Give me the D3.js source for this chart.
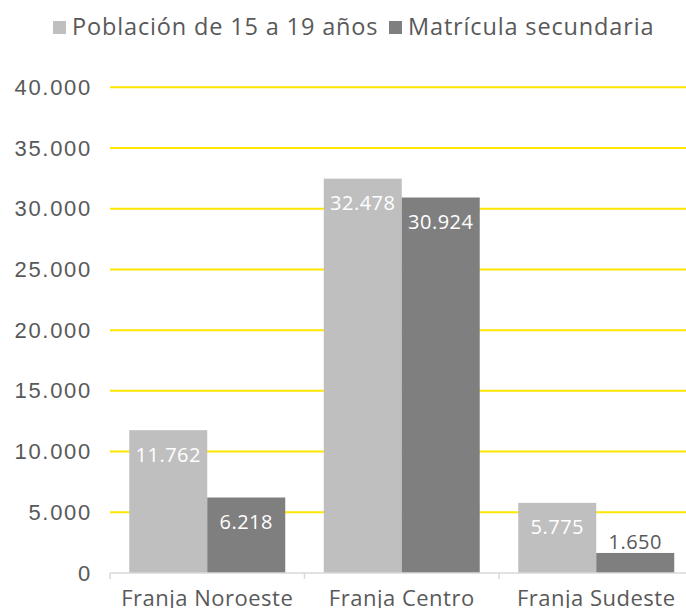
<!DOCTYPE html>
<html>
<head>
<meta charset="utf-8">
<script src="https://cdn.jsdelivr.net/npm/d3@7"></script>
<style>
  html, body { margin: 0; padding: 0; background: #fff; }
  svg { display: block; font-family: "Open Sans", "Noto Sans", sans-serif; }
</style>
</head>
<body>
<svg id="chart" width="686" height="608"></svg>
<script>
// Regions and the two series drawn per region
const categories = ["Franja Noroeste", "Franja Centro", "Franja Sudeste"];
const seriesNames = ["Población de 15 a 19 años", "Matrícula secundaria"];
const poblacion = [11762, 32478, 5775];
const matricula = [6218, 30924, 1650];
const yTicks = [0, 5000, 10000, 15000, 20000, 25000, 30000, 35000, 40000];

const colors = ["#BFBFBF", "#7F7F7F"];
const textColor = "#595959";

const svg = d3.select("#chart");
const plot = { left: 110, right: 693.5, top: 87.3, bottom: 573 };

const fmt = d3.formatLocale({ decimal: ",", thousands: ".", grouping: [3], currency: ["", ""] }).format(",d");

const y = d3.scaleLinear().domain([0, 40000]).range([plot.bottom, plot.top]);
const x0 = d3.scaleBand().domain(categories).range([plot.left, plot.right]).padding(0);
const x1 = d3.scaleBand().domain(seriesNames).range([0, x0.bandwidth()]).paddingInner(0).paddingOuter(0.247);

// Horizontal gridlines (skip zero, the axis line sits there)
svg.append("g")
  .selectAll("line")
  .data(yTicks.filter(d => d > 0))
  .join("line")
  .attr("x1", plot.left).attr("x2", plot.right)
  .attr("y1", d => y(d)).attr("y2", d => y(d))
  .attr("stroke", "#FFE600").attr("stroke-width", 2);

// Y axis labels
const yAxis = svg.append("g")
  .attr("transform", `translate(${plot.left},0)`)
  .call(d3.axisLeft(y).tickValues(yTicks).tickFormat(fmt).tickSize(0).tickPadding(18));
yAxis.select(".domain").remove();
yAxis.selectAll("text")
  .attr("fill", textColor)
  .style("font-size", "22px")
  .style("letter-spacing", "1.7px")
  .attr("font-family", null);

// Bars
const rows = categories.map((c, i) => ({ cat: c, values: [poblacion[i], matricula[i]] }));
const groups = svg.append("g")
  .selectAll("g")
  .data(rows)
  .join("g")
  .attr("transform", d => `translate(${x0(d.cat)},0)`);

groups.selectAll("rect")
  .data(d => d.values.map((v, j) => ({ s: seriesNames[j], v, j })))
  .join("rect")
  .attr("x", d => x1(d.s))
  .attr("width", x1.bandwidth())
  .attr("y", d => y(d.v))
  .attr("height", d => y(0) - y(d.v))
  .attr("fill", d => colors[d.j]);

// Value labels: inside near the top, or above the bar when it is too short
groups.selectAll("text.val")
  .data(d => d.values.map((v, j) => ({ s: seriesNames[j], v, j })))
  .join("text")
  .attr("class", "val")
  .attr("x", d => x1(d.s) + x1.bandwidth() / 2)
  .attr("y", d => (y(0) - y(d.v) > 40 ? y(d.v) + 24.5 : y(d.v) - 10.5))
  .attr("dy", "0.35em")
  .attr("text-anchor", "middle")
  .attr("fill", d => (y(0) - y(d.v) > 40 ? "#FFFFFF" : textColor))
  .style("font-size", "20px")
  .style("letter-spacing", "0.5px")
  .text(d => fmt(d.v));

// X axis line and category ticks
const xAxis = svg.append("g")
  .attr("transform", `translate(0,${plot.bottom})`);
xAxis.append("line")
  .attr("x1", plot.left).attr("x2", plot.right)
  .attr("stroke", "#D9D9D9").attr("stroke-width", 1.5);
xAxis.selectAll("line.tick")
  .data(categories.map(c => x0(c)).concat([plot.right]))
  .join("line")
  .attr("class", "tick")
  .attr("x1", d => d).attr("x2", d => d)
  .attr("y1", 0).attr("y2", 6)
  .attr("stroke", "#D9D9D9").attr("stroke-width", 1.5);
xAxis.selectAll("text")
  .data(categories)
  .join("text")
  .attr("x", d => x0(d) + x0.bandwidth() / 2)
  .attr("y", 33)
  .attr("text-anchor", "middle")
  .attr("fill", textColor)
  .style("font-size", "22px")
  .style("letter-spacing", "0.5px")
  .text(d => d);

// Legend across the top
const legend = svg.append("g").attr("transform", "translate(0,35)");
const legendItems = [
  { name: seriesNames[0], color: colors[0], x: 53 },
  { name: seriesNames[1], color: colors[1], x: 389 }
];
const li = legend.selectAll("g").data(legendItems).join("g")
  .attr("transform", d => `translate(${d.x},0)`);
li.append("rect").attr("x", 0).attr("y", -14).attr("width", 13).attr("height", 13).attr("fill", d => d.color);
li.append("text")
  .attr("x", 19)
  .attr("fill", textColor)
  .style("font-size", "23.5px")
  .style("letter-spacing", "0.85px")
  .text(d => d.name);
</script>
</body>
</html>
